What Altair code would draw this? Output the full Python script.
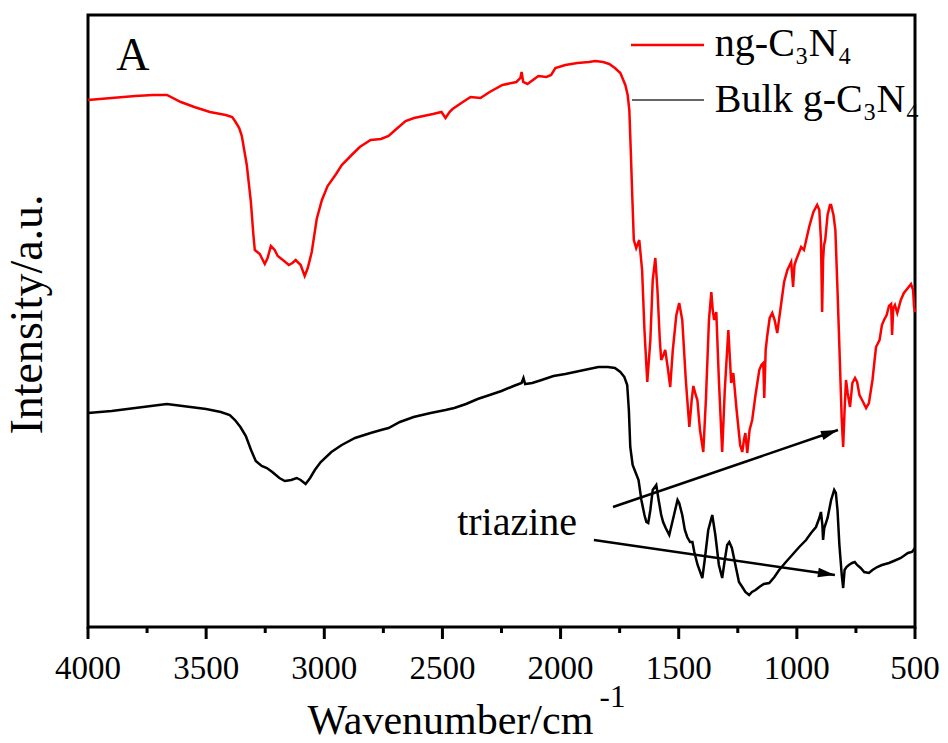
import math
import altair as alt
import pandas as pd

# ---------------- data ----------------
# ng-C3N4 (red) spectrum: wavenumber (cm-1) and intensity (a.u.)
red_wn = [4000, 3900, 3800, 3725, 3666, 3607, 3550, 3484, 3417, 3390, 3378, 3360, 3349, 3328, 3311,
          3300, 3294, 3273, 3252, 3240, 3226, 3210, 3197, 3170, 3150, 3135, 3121, 3100, 3083, 3070,
          3053, 3032, 3010, 2986, 2950, 2926, 2880, 2850, 2804, 2760, 2728, 2690, 2656, 2620, 2580,
          2540, 2504, 2487, 2470, 2457, 2420, 2381, 2339, 2300, 2246, 2187, 2170, 2165, 2158, 2140,
          2094, 2060, 2040, 2022, 1980, 1929, 1880, 1853, 1820, 1794, 1770, 1747, 1726, 1716, 1709,
          1703, 1696, 1690, 1680, 1667, 1655, 1645, 1633, 1620, 1610, 1599, 1590, 1580, 1574, 1565,
          1557, 1545, 1536, 1525, 1510, 1498, 1485, 1470, 1455, 1445, 1438, 1428, 1421, 1410, 1396,
          1385, 1372, 1362, 1356, 1350, 1341, 1330, 1316, 1305, 1290, 1283, 1278, 1269, 1255, 1240,
          1231, 1224, 1218, 1210, 1200, 1189, 1175, 1159, 1150, 1142, 1138, 1132, 1126, 1115, 1104,
          1094, 1083, 1070, 1054, 1040, 1024, 1016, 1010, 1003, 982, 970, 948, 930, 914, 905,
          898, 893, 889, 885, 880, 870, 860, 855, 845, 837, 828, 820, 810, 804, 798,
          792, 785, 775, 765, 754, 745, 735, 724, 707, 695, 680, 665, 650, 640, 631,
          620, 610, 601, 597, 592, 585, 575, 560, 547, 530, 517, 508, 504, 500]
red_int = [527, 529, 531, 532, 532, 525, 520, 515, 512, 510, 506, 499, 491, 462, 426,
           392, 377, 373, 363, 369, 381, 377, 371, 366, 362, 364, 367, 362, 351, 359,
           375, 408, 427, 441, 453, 462, 473, 480, 487, 488, 491, 499, 506, 509, 511,
           513, 515, 509, 515, 518, 524, 530, 529, 535, 542, 545, 549, 555, 545, 543,
           551, 550, 552, 559, 562, 564, 565, 566, 565, 563, 559, 554, 542, 532, 517,
           477, 427, 387, 379, 387, 357, 297, 245, 287, 347, 369, 337, 287, 267, 272,
           277, 257, 240, 277, 312, 324, 307, 247, 200, 227, 241, 232, 227, 197, 175,
           227, 307, 335, 317, 307, 315, 247, 175, 237, 297, 267, 244, 254, 217, 182,
           175, 187, 194, 174, 197, 207, 232, 257, 262, 264, 229, 277, 290, 309, 314,
           307, 294, 317, 345, 357, 365, 340, 362, 367, 380, 377, 400, 415, 422, 417,
           387, 315, 367, 382, 387, 412, 422, 422, 412, 397, 337, 280, 207, 180, 217,
           247, 234, 220, 244, 249, 245, 232, 227, 219, 224, 247, 280, 287, 302, 307,
           312, 321, 323, 292, 319, 322, 314, 327, 334, 339, 343, 337, 320, 315]

# Bulk g-C3N4 (black) spectrum
blk_wn = [4000, 3900, 3800, 3700, 3666, 3600, 3500, 3438, 3400, 3378, 3355, 3332, 3310, 3290, 3265,
          3243, 3220, 3190, 3167, 3140, 3117, 3100, 3079, 3060, 3040, 3015, 2970, 2926, 2870, 2804,
          2760, 2728, 2680, 2622, 2550, 2487, 2450, 2400, 2351, 2300, 2250, 2199, 2165, 2157, 2150,
          2120, 2080, 2030, 1980, 1940, 1900, 1840, 1800, 1770, 1747, 1730, 1718, 1711, 1705, 1695,
          1680, 1670, 1658, 1645, 1637, 1629, 1620, 1610, 1595, 1585, 1574, 1566, 1555, 1540, 1520,
          1505, 1498, 1485, 1474, 1464, 1452, 1442, 1434, 1420, 1400, 1390, 1375, 1358, 1345, 1330,
          1316, 1305, 1295, 1286, 1275, 1260, 1245, 1231, 1218, 1202, 1190, 1175, 1159, 1140, 1117,
          1095, 1075, 1050, 1020, 990, 961, 940, 919, 905, 898, 892, 889, 884, 870, 855,
          842, 835, 828, 820, 810, 804, 798, 790, 780, 766, 755, 745, 730, 715, 695,
          680, 660, 640, 610, 590, 560, 530, 513, 500]
blk_int = [214, 216, 219, 222, 223, 221, 218, 215, 212, 207, 200, 191, 177, 166, 161,
           159, 155, 149, 146, 147, 149, 147, 143, 149, 157, 165, 175, 182, 189, 194,
           197, 199, 205, 210, 214, 217, 219, 223, 228, 232, 236, 241, 244, 249, 243,
           244, 247, 251, 253, 255, 257, 260, 260, 259, 255, 250, 242, 217, 180, 162,
           153, 147, 127, 112, 105, 104, 117, 137, 142, 127, 112, 105, 99, 92, 112,
           127, 124, 112, 97, 90, 85, 85, 75, 62, 49, 67, 97, 112, 92, 62,
           49, 67, 82, 85, 79, 62, 45, 40, 35, 32, 35, 37, 40, 43, 44,
           50, 57, 64, 72, 80, 87, 94, 100, 109, 115, 102, 87, 99, 109, 127,
           137, 134, 117, 82, 52, 39, 57, 60, 62, 64, 65, 62, 59, 55, 54,
           57, 60, 62, 64, 66, 69, 74, 75, 79]

x_ticks = [4000, 3500, 3000, 2500, 2000, 1500, 1000, 500]
x_tick_labels = ["4000", "3500", "3000", "2500", "2000", "1500", "1000", "500"]
x_minor = [3750, 3250, 2750, 2250, 1750, 1250, 750]

# annotation arrows "triazine": start -> end (wavenumber, intensity)
arr_x = [1778, 1859]
arr_y = [120, 87]
arr_x2 = [826, 839]
arr_y2 = [197, 52]

series_names = ["ng-C₃N₄", "Bulk g-C₃N₄"]

# ---------------- layout ----------------
W, H = 827, 612
X_DOM = [500, 4000]
Y_DOM = [0, 612]
FONT = "Liberation Serif"
PX = (Y_DOM[1] - Y_DOM[0]) / H  # y units per pixel

xs = alt.Scale(domain=X_DOM, reverse=True, nice=False, zero=False)
ys = alt.Scale(domain=Y_DOM, nice=False, zero=False)

red_df = pd.DataFrame({"wn": red_wn, "I": red_int})
blk_df = pd.DataFrame({"wn": blk_wn, "I": blk_int})

xaxis = alt.Axis(title="Wavenumber/cm", labels=False, ticks=False, domain=False, grid=False,
                 titleFont=FONT, titleFontSize=42, titleFontWeight="normal", titleColor="black",
                 titleAlign="left", titleBaseline="alphabetic", titleX=219, titleY=106)
yaxis = alt.Axis(title="Intensity/a.u.", ticks=False, labels=False, domain=False, grid=False,
                 titleFont=FONT, titleFontSize=46, titleFontWeight="normal", titleColor="black",
                 titleAlign="center", titleBaseline="alphabetic", titleAngle=270,
                 titleX=-47, titleY=299)

X = lambda f: alt.X(f, scale=xs, axis=xaxis)
Y = lambda f: alt.Y(f, scale=ys, axis=yaxis)

blk_line = alt.Chart(blk_df).mark_line(color="black", strokeWidth=2.5).encode(
    x=X("wn:Q"), y=Y("I:Q"), order="wn:Q")
red_line = alt.Chart(red_df).mark_line(color="#ff0000", strokeWidth=2.5).encode(
    x=X("wn:Q"), y=Y("I:Q"), order="wn:Q")

# ticks and tick labels (below the frame, through the same scales)
tick_df = pd.DataFrame({"wn": x_ticks, "lab": x_tick_labels,
                        "y0": [0.0] * len(x_ticks), "y1": [-12 * PX] * len(x_ticks),
                        "yl": [-26 * PX] * len(x_ticks)})
minor_df = pd.DataFrame({"wn": x_minor, "y0": [0.0] * len(x_minor), "y1": [-6 * PX] * len(x_minor)})
major = alt.Chart(tick_df).mark_rule(color="black", strokeWidth=3).encode(
    x=X("wn:Q"), y=Y("y0:Q"), y2="y1:Q")
minor = alt.Chart(minor_df).mark_rule(color="black", strokeWidth=3).encode(
    x=X("wn:Q"), y=Y("y0:Q"), y2="y1:Q")
tick_lab = alt.Chart(tick_df).mark_text(
    font=FONT, fontSize=33, align="center", baseline="top", color="black"
).encode(x=X("wn:Q"), y=Y("yl:Q"), text="lab:N")

# superscript "-1" of the x-axis title
sup_df = pd.DataFrame({"wn": [1835], "I": [-80 * PX], "t": ["-1"]})
sup = alt.Chart(sup_df).mark_text(
    font=FONT, fontSize=31, align="left", baseline="alphabetic", color="black"
).encode(x=X("wn:Q"), y=Y("I:Q"), text="t:N")

# arrows
def px_angle(x1, y1, x2, y2):
    dx = (x1 - x2) / (X_DOM[1] - X_DOM[0]) * W  # reversed x
    dy = -(y2 - y1) / (Y_DOM[1] - Y_DOM[0]) * H
    return (math.degrees(math.atan2(dy, dx)) + 360) % 360

arr_df = pd.DataFrame({"wn": arr_x, "I": arr_y, "wn2": arr_x2, "I2": arr_y2})
arr_df["ang"] = [px_angle(a, b, c, d) for a, b, c, d in zip(arr_x, arr_y, arr_x2, arr_y2)]

arrows = alt.Chart(arr_df).mark_rule(color="black", strokeWidth=2.5).encode(
    x=X("wn:Q"), y=Y("I:Q"), x2="wn2:Q", y2="I2:Q")
heads = alt.Chart(arr_df).mark_point(
    shape="M0,0L-1,-0.28L-1,0.28Z", filled=True, color="black", opacity=1, size=1156, strokeWidth=0
).encode(x=X("wn2:Q"), y=Y("I2:Q"), angle=alt.Angle("ang:Q", scale=None))

# legend (drawn inside the plot)
leg_df = pd.DataFrame({
    "name": series_names,
    "x1": [1702, 1698], "x2": [1393, 1393],
    "ly": [582, 527], "ty": [571, 515], "tx": [1347, 1347],
})
leg_red = alt.Chart(leg_df.iloc[[0]]).mark_rule(color="#ff0000", strokeWidth=2.5).encode(
    x=X("x1:Q"), x2="x2:Q", y=Y("ly:Q"))
leg_blk = alt.Chart(leg_df.iloc[[1]]).mark_rule(color="#333333", strokeWidth=1.3).encode(
    x=X("x1:Q"), x2="x2:Q", y=Y("ly:Q"))
leg_txt = alt.Chart(leg_df).mark_text(
    font=FONT, fontSize=40, align="left", baseline="alphabetic", color="black"
).encode(x=X("tx:Q"), y=Y("ty:Q"), text="name:N")

labels_df = pd.DataFrame({"wn": [3810], "I": [571], "t": ["A"]})
lab_a = alt.Chart(labels_df).mark_text(
    font=FONT, fontSize=46, align="center", baseline="middle", color="black"
).encode(x=X("wn:Q"), y=Y("I:Q"), text="t:N")

tri_df = pd.DataFrame({"wn": [2184], "I": [92], "t": ["triazine"]})
lab_tri = alt.Chart(tri_df).mark_text(
    font=FONT, fontSize=40, align="center", baseline="alphabetic", color="black"
).encode(x=X("wn:Q"), y=Y("I:Q"), text="t:N")

chart = alt.layer(
    blk_line, red_line, major, minor, tick_lab, sup, arrows, heads,
    leg_red, leg_blk, leg_txt, lab_a, lab_tri
).properties(
    width=W, height=H,
    autosize=alt.AutoSizeParams(type="none"),
    padding={"left": 88, "top": 15, "right": 33, "bottom": 116},
    background="white",
).configure_view(
    stroke="black", strokeWidth=3
)

chart.save("out.html", embed_options={"renderer": "svg", "actions": False})
